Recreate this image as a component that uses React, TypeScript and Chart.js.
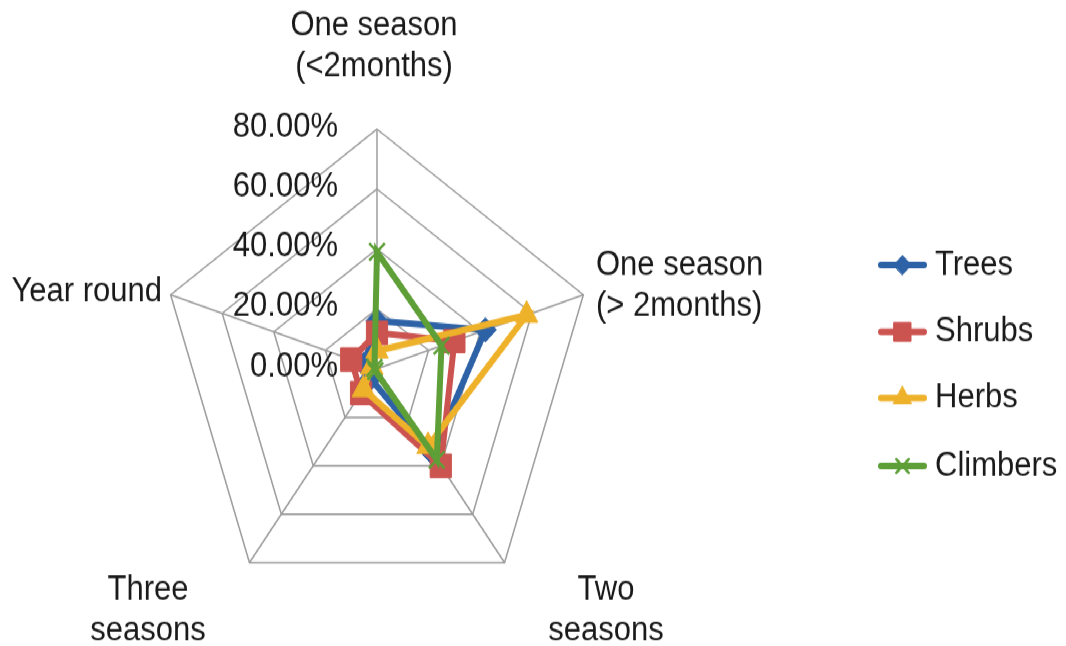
import React, { useEffect, useRef } from "react";
import { Chart, registerables } from "chart.js";
import { drawPoint } from "chart.js/helpers";

Chart.register(...registerables);

const categories: string[][] = [
  ["One season", "(<2months)"],
  ["One season", "(> 2months)"],
  ["Two", "seasons"],
  ["Three", "seasons"],
  ["Year round"],
];

const seriesNames = ["Trees", "Shrubs", "Herbs", "Climbers"];
const trees = [16, 42, 35, 4, 5];
const shrubs = [12, 30, 40, 10, 10];
const herbs = [6, 58, 32, 8.5, 2];
const climbers = [39, 25, 37.5, 1, 1];

const tickMin = 0;
const tickMax = 80;
const tickStep = 20;

const colors = ["#2e62a6", "#cc5450", "#eeb12a", "#5e9f37"];
const pointStyles = ["rectRot", "rect", "triangle", "crossRot"];
const pointRadii = [11, 15, 13, 11];

const FONT = '31px "Liberation Sans", Arial, sans-serif';
const TEXT = "#1a1a1a";
const GRID = "#9c9c9c";
const STRETCH = 646 / 585;

// label anchors relative to chart centre: [dx, dy of first line, align]
const labelAnchors: [number, number, CanvasTextAlign][] = [
  [-3, -311, "center"],
  [219, -94, "left"],
  [229, 200, "center"],
  [-229, 200, "center"],
  [-215, -70, "right"],
];
const LINE_GAP = 37;

const textPlugin = {
  id: "textPlugin",
  afterDraw(chart: any) {
    const ctx: CanvasRenderingContext2D = chart.ctx;
    const r = chart.scales.r;
    const cx = r.xCenter;
    const cy = r.yCenter;
    ctx.save();
    ctx.font = FONT;
    ctx.fillStyle = TEXT;
    ctx.textBaseline = "middle";
    // tick labels
    ctx.textAlign = "right";
    r.ticks.forEach((t: any) => {
      const d = r.getDistanceFromCenterForValue(t.value);
      ctx.fillText(t.value.toFixed(2) + "%", cx - 39, cy - d - 2);
    });
    // point labels
    (chart.data.labels as string[][]).forEach((lines, i) => {
      const [dx, dy, align] = labelAnchors[i];
      ctx.textAlign = align;
      lines.forEach((line, j) => {
        ctx.fillText(line, cx + dx, cy + dy + j * LINE_GAP);
      });
    });
    // legend
    const legendY = [240, 300.6, 360.4, 422];
    chart.data.datasets.forEach((ds: any, i: number) => {
      const y = legendY[i];
      ctx.strokeStyle = ds.borderColor;
      ctx.lineWidth = 6;
      ctx.lineCap = "round";
      ctx.beginPath();
      ctx.moveTo(881, y);
      ctx.lineTo(924, y);
      ctx.stroke();
      ctx.fillStyle = ds.borderColor;
      ctx.strokeStyle = ds.borderColor;
      ctx.lineWidth = ds.pointBorderWidth;
      drawPoint(ctx, { pointStyle: ds.pointStyle, radius: ds.pointRadius * 0.8, borderWidth: ds.pointBorderWidth, rotation: 0 } as any, 902.5, y);
      ctx.fillStyle = TEXT;
      ctx.textAlign = "left";
      ctx.fillText(ds.label, 935, y);
    });
    ctx.restore();
  },
};

export default function App() {
  const ref = useRef<HTMLCanvasElement | null>(null);
  useEffect(() => {
    if (!ref.current) return;
    const values = [trees, shrubs, herbs, climbers];
    const chart = new Chart(ref.current, {
      type: "radar",
      data: {
        labels: categories as any,
        datasets: seriesNames.map((name, i) => ({
          label: name,
          data: values[i],
          borderColor: colors[i],
          backgroundColor: colors[i],
          pointBackgroundColor: colors[i],
          pointBorderColor: colors[i],
          pointStyle: pointStyles[i] as any,
          pointRadius: pointRadii[i],
          pointBorderWidth: i === 3 ? 2.5 : 1,
          borderWidth: 6,
          fill: false,
          tension: 0,
          order: 4 - i,
        })),
      },
      options: {
        animation: false,
        responsive: true,
        maintainAspectRatio: false,
        layout: { padding: { left: 160, right: 472, top: 117, bottom: 34 } },
        plugins: { legend: { display: false }, tooltip: { enabled: false }, title: { display: false } },
        scales: {
          r: {
            min: tickMin,
            max: tickMax,
            ticks: { stepSize: tickStep, display: false },
            grid: { color: GRID, lineWidth: 1.5 },
            angleLines: { color: GRID, lineWidth: 1.5 },
            pointLabels: { display: false },
          },
        },
      },
      plugins: [textPlugin],
    });
    return () => chart.destroy();
  }, []);
  return (
    <div
      style={{
        position: "absolute",
        left: 0,
        top: 0,
        width: 1066,
        height: 585,
        transform: `scaleY(${STRETCH})`,
        transformOrigin: "0 0",
        background: "#fff",
      }}
    >
      <canvas ref={ref} />
    </div>
  );
}
